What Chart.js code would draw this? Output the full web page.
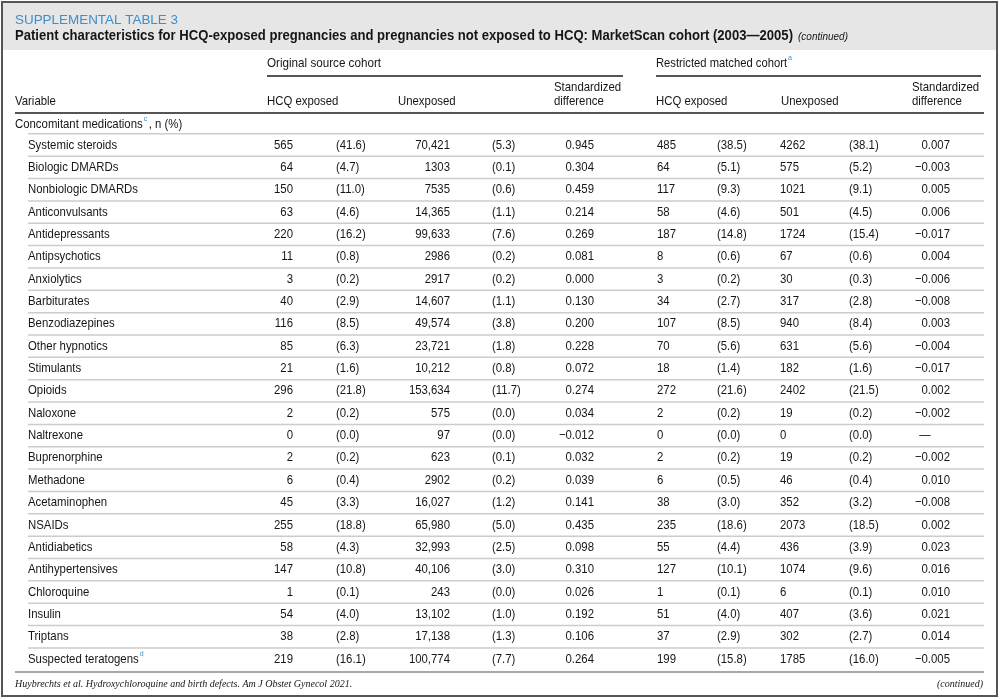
<!DOCTYPE html>
<html>
<head>
<meta charset="utf-8">
<script src="https://cdn.jsdelivr.net/npm/chart.js@4"></script>
<style>body{margin:0;background:#fff}</style>
</head>
<body>
<canvas id="table" width="1000" height="699"></canvas>
<script>
// table data
const variables = ["Systemic steroids", "Biologic DMARDs", "Nonbiologic DMARDs", "Anticonvulsants", "Antidepressants",
  "Antipsychotics", "Anxiolytics", "Barbiturates", "Benzodiazepines", "Other hypnotics", "Stimulants", "Opioids",
  "Naloxone", "Naltrexone", "Buprenorphine", "Methadone", "Acetaminophen", "NSAIDs", "Antidiabetics",
  "Antihypertensives", "Chloroquine", "Insulin", "Triptans", "Suspected teratogens"];
const hcqN = [565, 64, 150, 63, 220, 11, 3, 40, 116, 85, 21, 296, 2, 0, 2, 6, 45, 255, 58, 147, 1, 54, 38, 219];
const hcqPct = [41.6, 4.7, 11.0, 4.6, 16.2, 0.8, 0.2, 2.9, 8.5, 6.3, 1.6, 21.8, 0.2, 0.0, 0.2, 0.4, 3.3, 18.8, 4.3, 10.8, 0.1, 4.0, 2.8, 16.1];
const unexpN = [70421, 1303, 7535, 14365, 99633, 2986, 2917, 14607, 49574, 23721, 10212, 153634, 575, 97, 623, 2902, 16027, 65980, 32993, 40106, 243, 13102, 17138, 100774];
const unexpPct = [5.3, 0.1, 0.6, 1.1, 7.6, 0.2, 0.2, 1.1, 3.8, 1.8, 0.8, 11.7, 0.0, 0.0, 0.1, 0.2, 1.2, 5.0, 2.5, 3.0, 0.0, 1.0, 1.3, 7.7];
const stdDiff = [0.945, 0.304, 0.459, 0.214, 0.269, 0.081, 0.000, 0.130, 0.200, 0.228, 0.072, 0.274, 0.034, -0.012, 0.032, 0.039, 0.141, 0.435, 0.098, 0.310, 0.026, 0.192, 0.106, 0.264];
const matchHcqN = [485, 64, 117, 58, 187, 8, 3, 34, 107, 70, 18, 272, 2, 0, 2, 6, 38, 235, 55, 127, 1, 51, 37, 199];
const matchHcqPct = [38.5, 5.1, 9.3, 4.6, 14.8, 0.6, 0.2, 2.7, 8.5, 5.6, 1.4, 21.6, 0.2, 0.0, 0.2, 0.5, 3.0, 18.6, 4.4, 10.1, 0.1, 4.0, 2.9, 15.8];
const matchUnexpN = [4262, 575, 1021, 501, 1724, 67, 30, 317, 940, 631, 182, 2402, 19, 0, 19, 46, 352, 2073, 436, 1074, 6, 407, 302, 1785];
const matchUnexpPct = [38.1, 5.2, 9.1, 4.5, 15.4, 0.6, 0.3, 2.8, 8.4, 5.6, 1.6, 21.5, 0.2, 0.0, 0.2, 0.4, 3.2, 18.5, 3.9, 9.6, 0.1, 3.6, 2.7, 16.0];
const matchStdDiff = [0.007, -0.003, 0.005, 0.006, -0.017, 0.004, -0.006, -0.008, 0.003, -0.004, -0.017, 0.002, -0.002, null, -0.002, 0.010, -0.008, 0.002, 0.023, 0.016, 0.010, 0.021, 0.014, -0.005];

const FONT = '"Liberation Sans", Arial, sans-serif';
const COND = 0.875; // horizontal squeeze to imitate a condensed face
const INK = '#161616';
const BLUE = '#3d8fcb';

const fmtN = v => v >= 10000 ? v.toLocaleString('en-US') : String(v);
const fmtPct = v => '(' + v.toFixed(1) + ')';
const fmtStd = v => v === null ? '\u2014' : (v < 0 ? '\u2212' + Math.abs(v).toFixed(3) : v.toFixed(3));

// column anchors (x in px) and alignment
const columns = [
  {values: hcqN, x: 293, align: 'right', fmt: fmtN},
  {values: hcqPct, x: 336, align: 'left', fmt: fmtPct},
  {values: unexpN, x: 450, align: 'right', fmt: fmtN},
  {values: unexpPct, x: 492, align: 'left', fmt: fmtPct},
  {values: stdDiff, x: 594, align: 'right', fmt: fmtStd},
  {values: matchHcqN, x: 657, align: 'left', fmt: fmtN},
  {values: matchHcqPct, x: 717, align: 'left', fmt: fmtPct},
  {values: matchUnexpN, x: 780, align: 'left', fmt: fmtN},
  {values: matchUnexpPct, x: 849, align: 'left', fmt: fmtPct},
  {values: matchStdDiff, x: 950, align: 'right', fmt: fmtStd}
];

const ROW0 = 145, ROWH = 22.35, H = 699;

function txt(ctx, s, x, y, align, font, color, sx) {
  if (sx === undefined) sx = COND;
  ctx.save();
  ctx.font = font;
  ctx.fillStyle = color || INK;
  ctx.textAlign = align;
  ctx.textBaseline = 'middle';
  ctx.translate(x, y);
  ctx.scale(sx, 1);
  ctx.fillText(s, 0, 0);
  const w = ctx.measureText(s).width * sx;
  ctx.restore();
  return w;
}
// squeeze text so that it spans a given width
function fitTxt(ctx, s, x, y, font, color, width) {
  ctx.save();
  ctx.font = font;
  const w = ctx.measureText(s).width;
  ctx.restore();
  return txt(ctx, s, x, y, 'left', font, color, width / w);
}
function sup(ctx, s, x, y) {
  txt(ctx, s, x + 1, y - 5, 'left', '8px ' + FONT, BLUE);
}
function hline(ctx, x1, x2, y, w, c) {
  ctx.beginPath();
  ctx.lineWidth = w;
  ctx.strokeStyle = c;
  ctx.moveTo(x1, y);
  ctx.lineTo(x2, y);
  ctx.stroke();
}

const tablePlugin = {
  id: 'tablePlugin',
  beforeDraw(chart) {
    const ctx = chart.ctx;
    ctx.save();
    ctx.fillStyle = '#fff';
    ctx.fillRect(0, 0, 1000, H);
    ctx.fillStyle = '#e6e6e6';
    ctx.fillRect(2, 2, 996, 48);
    ctx.strokeStyle = '#555';
    ctx.lineWidth = 2;
    ctx.strokeRect(2, 2, 995, 694);
    ctx.restore();
  },
  afterDatasetsDraw(chart) {
    const ctx = chart.ctx, y = chart.scales.y;
    ctx.save();
    // title block
    fitTxt(ctx, 'SUPPLEMENTAL TABLE 3', 15, 20, '13.5px ' + FONT, BLUE, 163);
    const tw = fitTxt(ctx, 'Patient characteristics for HCQ-exposed pregnancies and pregnancies not exposed to HCQ: MarketScan cohort (2003\u20142005)', 15, 36, 'bold 14px ' + FONT, INK, 778);
    fitTxt(ctx, '(continued)', 15 + tw + 5, 37, 'italic 10px ' + FONT, INK, 50);

    // column headers
    const hf = '13px ' + FONT;
    fitTxt(ctx, 'Original source cohort', 267, 63, hf, INK, 114);
    const rw = fitTxt(ctx, 'Restricted matched cohort', 656, 63, hf, INK, 131);
    sup(ctx, 'a', 656 + rw, 63);
    hline(ctx, 267, 623, 76, 2, '#555');
    hline(ctx, 656, 981, 76, 2, '#555');
    txt(ctx, 'Variable', 15, 101, 'left', hf);
    txt(ctx, 'HCQ exposed', 267, 101, 'left', hf);
    txt(ctx, 'Unexposed', 398, 101, 'left', hf);
    txt(ctx, 'Standardized', 554, 87, 'left', hf);
    txt(ctx, 'difference', 554, 101, 'left', hf);
    txt(ctx, 'HCQ exposed', 656, 101, 'left', hf);
    txt(ctx, 'Unexposed', 781, 101, 'left', hf);
    txt(ctx, 'Standardized', 912, 87, 'left', hf);
    txt(ctx, 'difference', 912, 101, 'left', hf);
    hline(ctx, 15, 984, 113, 2, '#555');
    const cw = txt(ctx, 'Concomitant medications', 15, 124, 'left', hf);
    sup(ctx, 'c', 15 + cw, 124);
    txt(ctx, ', n (%)', 15 + cw + 6, 124, 'left', hf);

    // row separators and labels through the y scale
    variables.forEach((name, i) => {
      hline(ctx, 28, 984, y.getPixelForValue(i - 0.5), 1.5, '#cccccc');
      const w = txt(ctx, name, 28, y.getPixelForValue(i), 'left', '13px ' + FONT);
      if (name === 'Suspected teratogens') sup(ctx, 'd', 28 + w, y.getPixelForValue(i));
    });
    hline(ctx, 15, 984, y.getPixelForValue(variables.length - 0.42), 2, '#a8a8a8');

    // cells from dataset elements
    chart.data.datasets.forEach((ds, di) => {
      const col = columns[di];
      chart.getDatasetMeta(di).data.forEach((pt, i) => {
        const v = ds.data[i].v;
        if (v === null) {
          txt(ctx, col.fmt(v), pt.x - 25, pt.y, 'center', '13px ' + FONT);
        } else {
          txt(ctx, col.fmt(v), pt.x, pt.y, col.align, '13px ' + FONT);
        }
      });
    });

    // footer
    txt(ctx, 'Huybrechts et al. Hydroxychloroquine and birth defects. Am J Obstet Gynecol 2021.', 15, 684, 'left', 'italic 10px "Liberation Serif", serif', INK, 1);
    txt(ctx, '(continued)', 983, 684, 'right', 'italic 10px "Liberation Serif", serif', INK, 1);
    ctx.restore();
  }
};

new Chart('table', {
  type: 'scatter',
  data: {
    datasets: columns.map(col => ({
      data: col.values.map((v, i) => ({x: col.x, y: i, v: v})),
      pointRadius: 0,
      pointHoverRadius: 0
    }))
  },
  options: {
    responsive: false,
    devicePixelRatio: 1,
    animation: false,
    layout: {padding: 0},
    plugins: {legend: {display: false}, tooltip: {enabled: false}},
    scales: {
      x: {type: 'linear', display: false, min: 0, max: 1000},
      y: {type: 'linear', display: false, reverse: true, min: -ROW0 / ROWH, max: (H - ROW0) / ROWH}
    }
  },
  plugins: [tablePlugin]
});
</script>
</body>
</html>
